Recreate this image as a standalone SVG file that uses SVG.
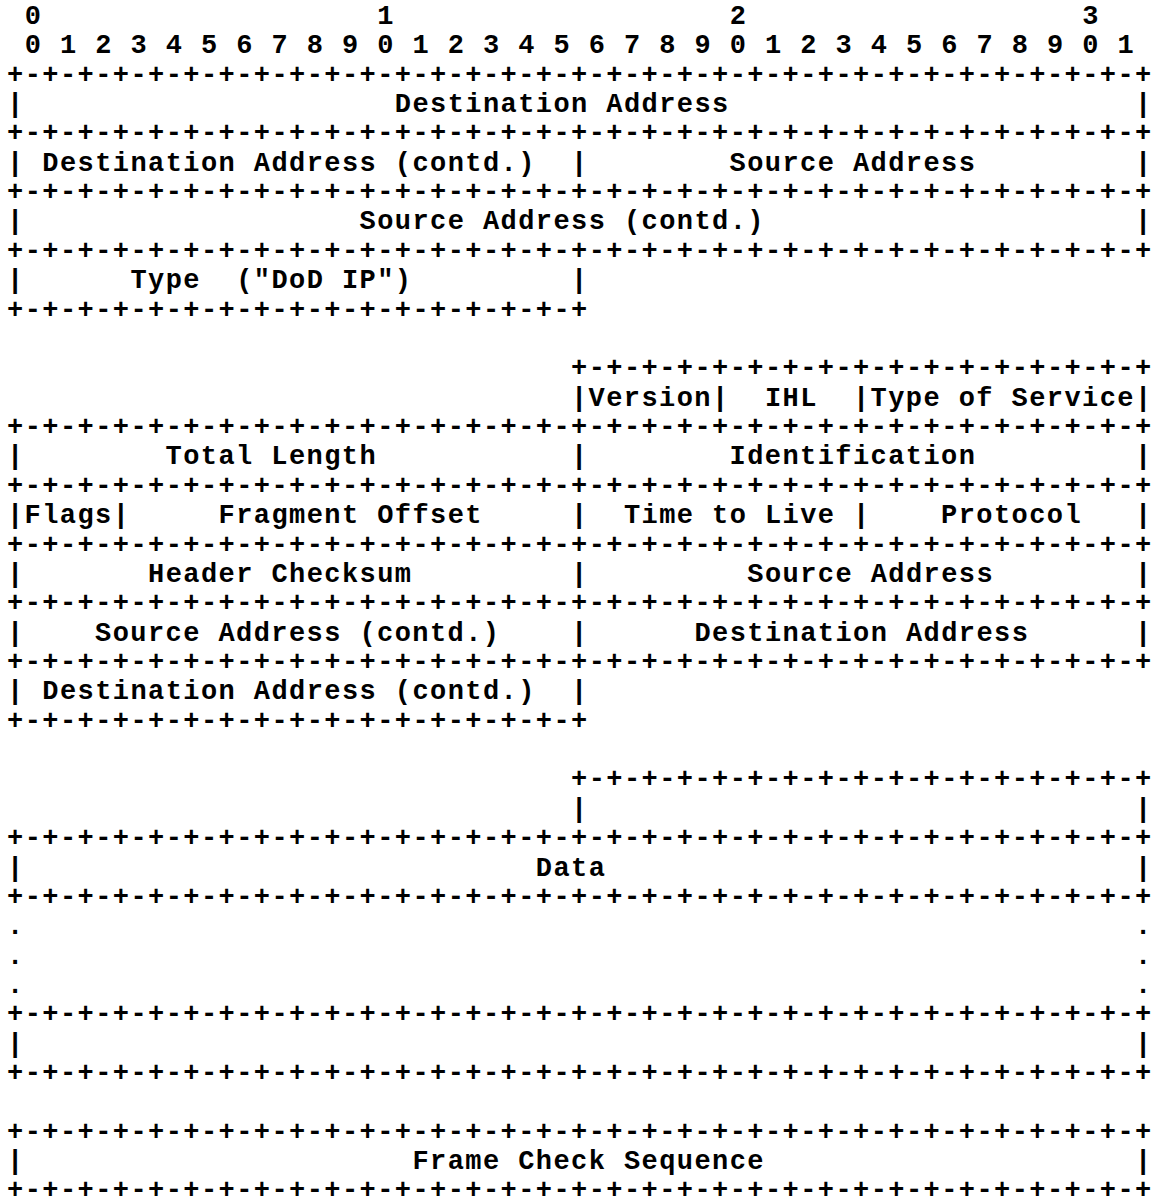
<svg xmlns="http://www.w3.org/2000/svg" width="1160" height="1200" viewBox="0 0 1160 1200" xml:space="preserve">
<style>
text { font-family: "Liberation Mono", "DejaVu Sans Mono", monospace; font-size: 27px; font-weight: bold; letter-spacing: 1.423px; fill: #000; white-space: pre; }
</style>
<defs>
<text id="full" x="0" y="0">+-+-+-+-+-+-+-+-+-+-+-+-+-+-+-+-+-+-+-+-+-+-+-+-+-+-+-+-+-+-+-+-+</text>
<text id="half" x="0" y="0">+-+-+-+-+-+-+-+-+-+-+-+-+-+-+-+-+</text>
<text id="vb" x="0" y="0">|</text>
<text id="dot" x="0" y="0">.</text>
</defs>
<rect width="1160" height="1200" fill="#fff"/>

<g id="ruler">
<text x="7.0" y="23.8"> 0                   1                   2                   3</text>
<text x="7.0" y="53.2"> 0 1 2 3 4 5 6 7 8 9 0 1 2 3 4 5 6 7 8 9 0 1 2 3 4 5 6 7 8 9 0 1</text>
</g>

<g id="grid">
<use href="#full" x="7.0" y="82.5"/>
<use href="#full" x="7.0" y="141.3"/>
<use href="#full" x="7.0" y="200.0"/>
<use href="#full" x="7.0" y="258.8"/>
<use href="#half" x="7.0" y="317.5"/>
<use href="#half" x="571.0" y="376.2"/>
<use href="#full" x="7.0" y="435.0"/>
<use href="#full" x="7.0" y="493.7"/>
<use href="#full" x="7.0" y="552.5"/>
<use href="#full" x="7.0" y="611.2"/>
<use href="#full" x="7.0" y="669.9"/>
<use href="#half" x="7.0" y="728.7"/>
<use href="#half" x="571.0" y="787.4"/>
<use href="#full" x="7.0" y="846.2"/>
<use href="#full" x="7.0" y="904.9"/>
<use href="#full" x="7.0" y="1022.4"/>
<use href="#full" x="7.0" y="1081.1"/>
<use href="#full" x="7.0" y="1139.9"/>
<use href="#full" x="7.0" y="1198.3"/>

<use href="#vb" x="7.0" y="111.9"/><use href="#vb" x="1135.0" y="111.9"/>
<use href="#vb" x="7.0" y="170.6"/><use href="#vb" x="571.0" y="170.6"/><use href="#vb" x="1135.0" y="170.6"/>
<use href="#vb" x="7.0" y="229.4"/><use href="#vb" x="1135.0" y="229.4"/>
<use href="#vb" x="7.0" y="288.1"/><use href="#vb" x="571.0" y="288.1"/>
<use href="#vb" x="571.0" y="405.6"/><use href="#vb" x="712.0" y="405.6"/><use href="#vb" x="853.0" y="405.6"/><use href="#vb" x="1135.0" y="405.6"/>
<use href="#vb" x="7.0" y="464.3"/><use href="#vb" x="571.0" y="464.3"/><use href="#vb" x="1135.0" y="464.3"/>
<use href="#vb" x="7.0" y="523.1"/><use href="#vb" x="112.8" y="523.1"/><use href="#vb" x="571.0" y="523.1"/><use href="#vb" x="853.0" y="523.1"/><use href="#vb" x="1135.0" y="523.1"/>
<use href="#vb" x="7.0" y="581.8"/><use href="#vb" x="571.0" y="581.8"/><use href="#vb" x="1135.0" y="581.8"/>
<use href="#vb" x="7.0" y="640.6"/><use href="#vb" x="571.0" y="640.6"/><use href="#vb" x="1135.0" y="640.6"/>
<use href="#vb" x="7.0" y="699.3"/><use href="#vb" x="571.0" y="699.3"/>
<use href="#vb" x="571.0" y="816.8"/><use href="#vb" x="1135.0" y="816.8"/>
<use href="#vb" x="7.0" y="875.5"/><use href="#vb" x="1135.0" y="875.5"/>
<use href="#dot" x="7.0" y="934.3"/><use href="#dot" x="1135.0" y="934.3"/>
<use href="#dot" x="7.0" y="963.6"/><use href="#dot" x="1135.0" y="963.6"/>
<use href="#dot" x="7.0" y="993.0"/><use href="#dot" x="1135.0" y="993.0"/>
<use href="#vb" x="7.0" y="1051.7"/><use href="#vb" x="1135.0" y="1051.7"/>
<use href="#vb" x="7.0" y="1169.2"/><use href="#vb" x="1135.0" y="1169.2"/>
</g>

<g id="eth-destination-address"><text x="394.8" y="111.9">Destination Address</text></g>
<g id="eth-destination-address-contd"><text x="42.3" y="170.6">Destination Address (contd.)</text></g>
<g id="eth-source-address"><text x="729.6" y="170.6">Source Address</text></g>
<g id="eth-source-address-contd"><text x="359.5" y="229.4">Source Address (contd.)</text></g>
<g id="eth-type"><text x="130.4" y="288.1">Type  (&quot;DoD IP&quot;)</text></g>

<g id="ip-version"><text x="588.6" y="405.6">Version</text></g>
<g id="ip-ihl"><text x="764.9" y="405.6">IHL</text></g>
<g id="ip-tos"><text x="870.6" y="405.6">Type of Service</text></g>
<g id="ip-total-length"><text x="165.6" y="464.3">Total Length</text></g>
<g id="ip-identification"><text x="729.6" y="464.3">Identification</text></g>
<g id="ip-flags"><text x="24.6" y="523.1">Flags</text></g>
<g id="ip-fragment-offset"><text x="218.5" y="523.1">Fragment Offset</text></g>
<g id="ip-ttl"><text x="623.9" y="523.1">Time to Live</text></g>
<g id="ip-protocol"><text x="941.1" y="523.1">Protocol</text></g>
<g id="ip-header-checksum"><text x="148.0" y="581.8">Header Checksum</text></g>
<g id="ip-source-address"><text x="747.3" y="581.8">Source Address</text></g>
<g id="ip-source-address-contd"><text x="95.1" y="640.6">Source Address (contd.)</text></g>
<g id="ip-destination-address"><text x="694.4" y="640.6">Destination Address</text></g>
<g id="ip-destination-address-contd"><text x="42.3" y="699.3">Destination Address (contd.)</text></g>

<g id="data"><text x="535.8" y="875.5">Data</text></g>
<g id="fcs"><text x="412.4" y="1169.2">Frame Check Sequence</text></g>
</svg>
